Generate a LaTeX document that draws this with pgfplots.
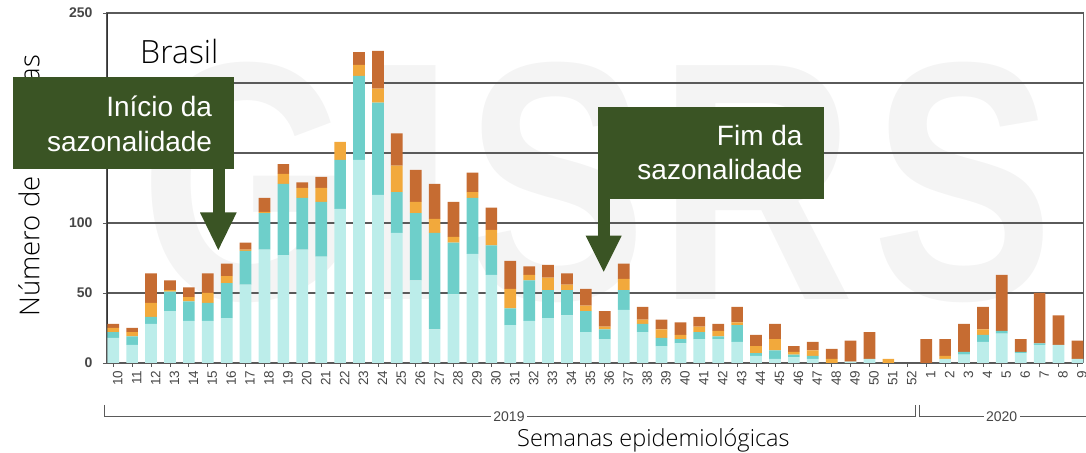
\documentclass[border=0pt]{standalone}
\usepackage{fontspec}
\setmainfont{Liberation Sans}
\newfontfamily\lightfont{Open Sans Light}
\usepackage{pgfplots}
\pgfplotsset{compat=1.18}
\usepackage{pgfplotstable}
\usetikzlibrary{calc,backgrounds}

\definecolor{cLight}{HTML}{BCEDEA}
\definecolor{cTeal}{HTML}{6ECFCA}
\definecolor{cOrange}{HTML}{F2A93C}
\definecolor{cBrown}{HTML}{C66C32}
\definecolor{boxgreen}{HTML}{3A5424}
\definecolor{wm}{HTML}{F4F4F4}
\definecolor{gridc}{HTML}{5A5A5A}
\definecolor{tickc}{HTML}{464646}

% semana, a = azul claro, b = turquesa, c = laranja, d = marrom
\pgfplotstableread{
x a b c d
0 18 4 3 3
1 13 6 3 3
2 28 5 10 21
3 37 14 1 7
4 30 14 3 7
5 30 13 7 14
6 32 25 5 9
7 56 24 1 5
8 81 26 1 10
9 77 51 7 7
10 81 37 7 4
11 76 39 10 8
12 110 35 13 0
13 145 60 8 9
14 120 66 10 27
15 93 29 19 23
16 59 48 8 23
17 24 69 10 25
18 49 37 4 25
19 78 40 4 14
20 63 21 11 16
21 27 12 14 20
22 30 29 4 6
23 32 20 9 9
24 34 18 4 8
25 22 15 4 12
26 17 7 2 11
27 38 14 8 11
28 22 6 3 9
29 12 6 6 7
30 14 3 3 9
31 17 5 4 7
32 17 2 4 5
33 15 12 2 11
34 5 2 5 8
35 3 6 8 11
36 4 2 2 4
37 3 2 4 6
38 0 0 3 7
39 1 0 0 15
40 3 0 0 19
41 0 0 3 0
42 0 0 0 0
43 0 0 0 17
44 3 0 2 12
45 6 2 0 20
46 15 5 4 16
47 21 2 0 40
48 7 1 0 9
49 13 1 0 36
50 13 0 0 21
51 3 0 0 13
}\flu

\begin{document}
\begin{tikzpicture}[x=1bp,y=1bp]
\begin{axis}[
    scale only axis, width=976.3bp, height=350bp,
    ybar stacked, bar width=11.7bp,
    xmin=-0.33, xmax=51.31, ymin=0, ymax=250,
    ytick={0,50,100,150,200,250},
    xtick={0,...,51},
    xticklabels={10,11,12,13,14,15,16,17,18,19,20,21,22,23,24,25,26,27,28,29,30,31,32,33,34,35,36,37,38,39,40,41,42,43,44,45,46,47,48,49,50,51,52,1,2,3,4,5,6,7,8,9},
    xtick pos=bottom, ytick pos=left,
    tick align=outside, major tick length=4bp,
    tick style={draw=gridc, line width=0.8bp},
    ymajorgrids, major grid style={draw=gridc, line width=1.1bp},
    axis line style={draw=gridc, line width=1bp},
    /pgf/number format/assume math mode=true,
    x tick label style={rotate=90, anchor=east, text=tickc, yshift=-4.5bp,
        font=\fontsize{13.5bp}{13.5bp}\selectfont},
    y tick label style={text=tickc, xshift=-7bp,
        font=\bfseries\fontsize{14bp}{14bp}\selectfont},
]
\addplot[fill=cLight, draw=none] table[x=x,y=a]{\flu};
\addplot[fill=cTeal, draw=none] table[x=x,y=b]{\flu};
\addplot[fill=cOrange, draw=none] table[x=x,y=c]{\flu};
\addplot[fill=cBrown, draw=none] table[x=x,y=d]{\flu};
\pgfplotsinvokeforeach{0,50,100,150,200,250}{
  \draw[gridc, line width=1.1bp] (axis cs:-0.33,#1) -- ++(-12bp,0);
}
\draw[black!80, line width=1.2bp] (rel axis cs:0,0) -- (rel axis cs:0,1);
\coordinate (O) at (rel axis cs:0,0);
\end{axis}

\pgfresetboundingbox
\begin{scope}[shift={($(O)-(107,90)$)}]
\useasboundingbox (0,0) rectangle (1086,453);

% marca d'agua
\begin{scope}[on background layer, every node/.style={inner sep=0, anchor=base, text=wm,
    font=\bfseries\fontsize{340bp}{340bp}\selectfont, xscale=0.8}]
\node at (246,153) {G};
\node[xscale=1.35] at (410,153) {I};
\node at (556,153) {S};
\node at (757,153) {R};
\node at (963,153) {S};
\end{scope}

% eixo dos anos
\draw[gridc, line width=1bp] (104.6,48) -- (104.6,36.5) -- (915.7,36.5) -- (915.7,48);
\draw[gridc, line width=1bp] (919,48) -- (919,36.5) -- (1090,36.5);
\node[fill=white, text=tickc, inner sep=2.5bp, font=\fontsize{14bp}{14bp}\selectfont] at (509,36.8) {2019};
\node[fill=white, text=tickc, inner sep=2.5bp, font=\fontsize{14bp}{14bp}\selectfont] at (1001.7,36.8) {2020};

% titulos
\node[anchor=base west, inner sep=0, font=\lightfont\fontsize{32bp}{32bp}\selectfont] at (140,389.7) {Brasil};
\node[anchor=base west, inner sep=0, font=\lightfont\fontsize{23.5bp}{23.5bp}\selectfont] at (517,6.5) {Semanas epidemiológicas};
\node[rotate=90, anchor=base west, inner sep=0, font=\lightfont\fontsize{27.5bp}{27.5bp}\selectfont] at (39.3,136) {Número de amostras};

% caixas
\fill[boxgreen] (12.7,283.7) rectangle (234.3,375.7);
\fill[boxgreen] (213,284) rectangle (224.5,240);
\fill[boxgreen] (200,240.5) -- (236.7,240.5) -- (218.3,203) -- cycle;
\node[anchor=base east, inner sep=0, text=white, font=\fontsize{28bp}{28bp}\selectfont] at (212.3,336.3) {Início da};
\node[anchor=base east, inner sep=0, text=white, font=\fontsize{28bp}{28bp}\selectfont] at (212.3,301.3) {sazonalidade};

\fill[boxgreen] (598.3,254) rectangle (824.3,345.7);
\fill[boxgreen] (597.5,254.5) rectangle (609.5,217);
\fill[boxgreen] (585.7,217.3) -- (621.7,217.3) -- (603.7,181.3) -- cycle;
\node[anchor=base east, inner sep=0, text=white, font=\fontsize{28bp}{28bp}\selectfont] at (802.7,307.3) {Fim da};
\node[anchor=base east, inner sep=0, text=white, font=\fontsize{28bp}{28bp}\selectfont] at (802.7,273) {sazonalidade};
\end{scope}
\end{tikzpicture}
\end{document}
